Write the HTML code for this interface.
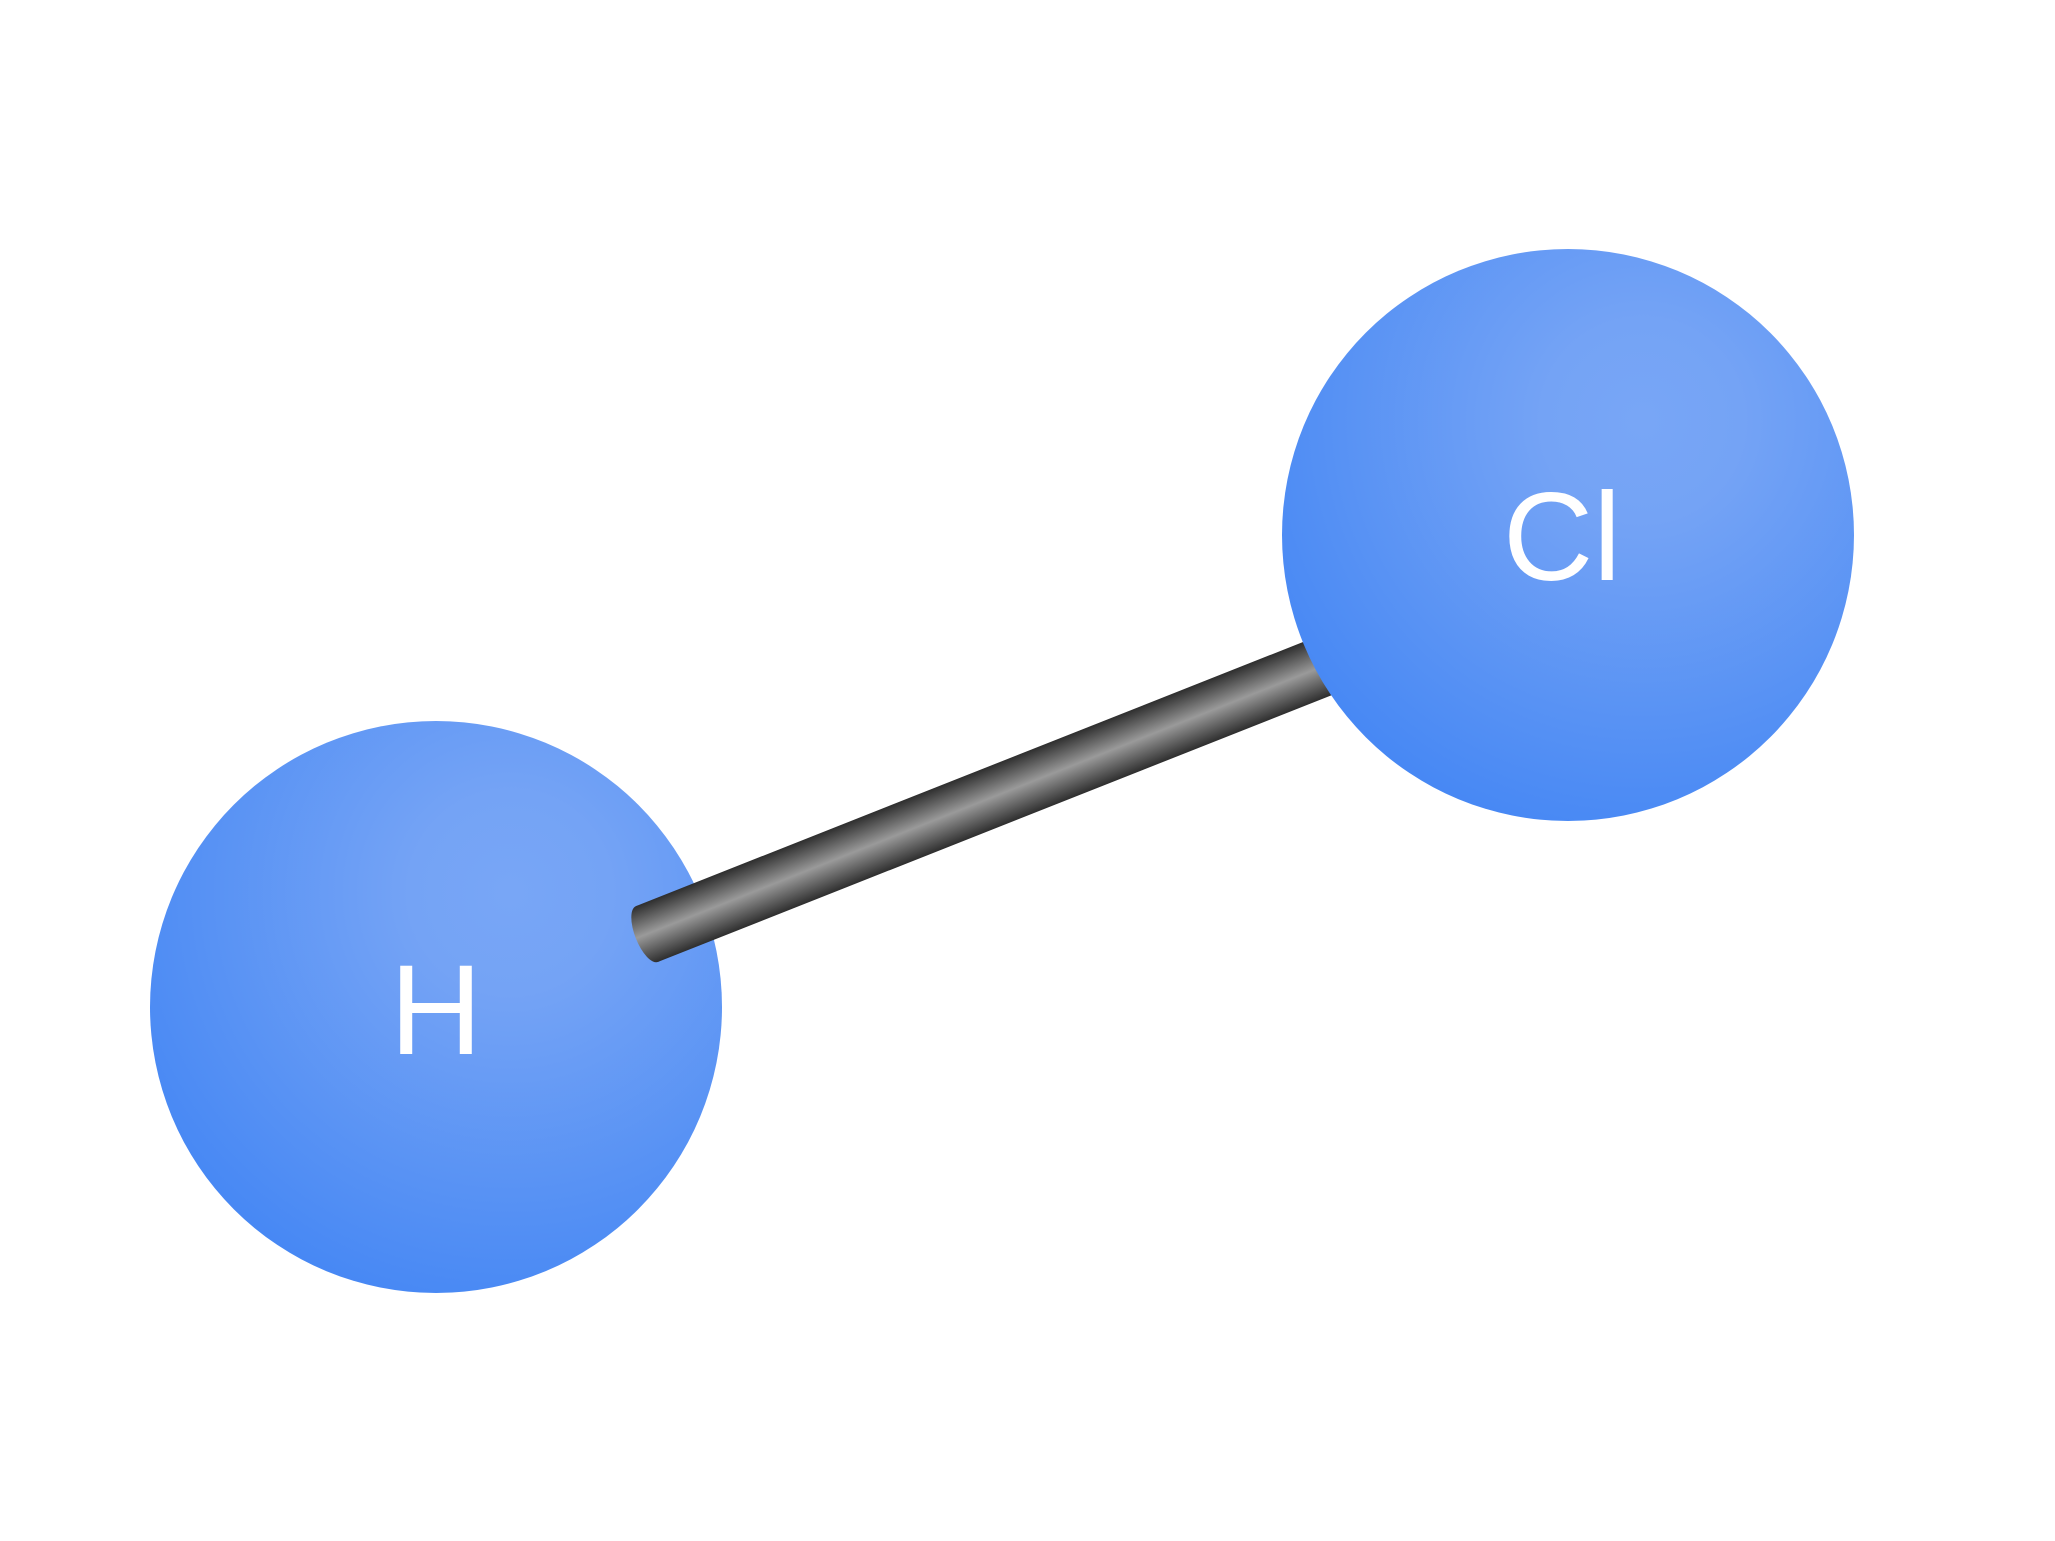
<!DOCTYPE html>
<html><head><meta charset="utf-8"><style>html,body{margin:0;padding:0;background:#fff;}svg{display:block}</style></head>
<body>
<svg width="2055" height="1541" viewBox="0 0 2055 1541" xmlns="http://www.w3.org/2000/svg">
<defs>
<radialGradient id="g" cx="0.63" cy="0.3" r="0.8" fx="0.63" fy="0.3">
<stop offset="0" stop-color="#78a6f6"/>
<stop offset="0.22" stop-color="#74a3f5"/>
<stop offset="1" stop-color="#4285f4"/>
</radialGradient>
<linearGradient id="b" x1="0" y1="0" x2="0" y2="1">
<stop offset="0" stop-color="#2e2e2e"/>
<stop offset="0.5" stop-color="#9a9a9a"/>
<stop offset="1" stop-color="#2e2e2e"/>
</linearGradient>
</defs>
<circle cx="436" cy="1007" r="286" fill="url(#g)"/>
<g transform="translate(647,934) rotate(-21.6)">
<rect x="0" y="-30" width="740" height="60" fill="url(#b)"/>
<ellipse cx="0" cy="0" rx="12" ry="30" fill="url(#b)"/>
</g>
<circle cx="1568" cy="535" r="286" fill="url(#g)"/>
<text x="436" y="1054" font-family="Liberation Sans, sans-serif" font-size="128" fill="#fff" text-anchor="middle">H</text>
<text x="1562" y="580" font-family="Liberation Sans, sans-serif" font-size="125" fill="#fff" text-anchor="middle">Cl</text>
</svg>
</body></html>
